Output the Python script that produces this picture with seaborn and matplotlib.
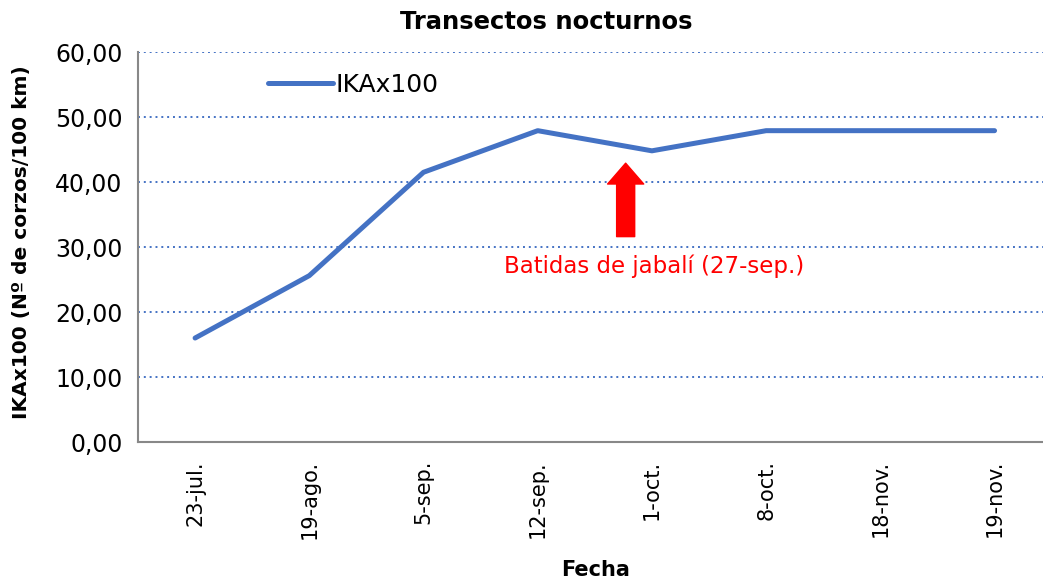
import seaborn as sns
import matplotlib.pyplot as plt
import pandas as pd
from matplotlib.ticker import FuncFormatter, FixedLocator

# datos
fechas = ["23-jul.", "19-ago.", "5-sep.", "12-sep.", "1-oct.", "8-oct.", "18-nov.", "19-nov."]
ika = [16.0, 25.6, 41.5, 47.9, 44.8, 47.9, 47.9, 47.9]
y_ticks = [0, 10, 20, 30, 40, 50, 60]
nota = "Batidas de jabalí (27-sep.)"

sns.set_style("white")
plt.rcParams['font.family'] = ['DejaVu Sans']
plt.rcParams['text.color'] = 'black'
plt.rcParams['xtick.color'] = 'black'
plt.rcParams['ytick.color'] = 'black'

df = pd.DataFrame({"Fecha": fechas, "IKAx100": ika})

fig = plt.figure(figsize=(10.43, 5.8), dpi=100)
ax = fig.add_axes([0.1323, 0.2379, 0.876, 0.6724])

azul = "#4472C4"
sns.lineplot(data=df, x="Fecha", y="IKAx100", ax=ax, color=azul, linewidth=3.6,
             sort=False, label="IKAx100")

ax.set_xlim(-0.5, len(fechas) - 0.5)
ax.set_ylim(0, 60)
ax.yaxis.set_major_locator(FixedLocator(y_ticks))
ax.yaxis.set_major_formatter(FuncFormatter(lambda v, p: f"{v:.2f}".replace(".", ",")))
for v in y_ticks[1:]:
    ax.axhline(v, color=azul, linestyle=(0, (1, 2)), linewidth=1.4, zorder=0)

ax.set_xticks(range(len(fechas)))
ax.set_xticklabels(fechas, rotation=90, fontsize=15)
ax.set_xticks([i - 0.5 for i in range(len(fechas) + 1)], minor=True)
ax.tick_params(axis="x", which="major", length=0, pad=13)
ax.tick_params(axis="x", which="minor", length=7, color="#888888", width=1.5, direction="out")
ax.tick_params(axis="y", length=7, color="#888888", width=1.5, direction="out", labelsize=17, pad=4)

for s in ["top", "right"]:
    ax.spines[s].set_visible(False)
for s in ["left", "bottom"]:
    ax.spines[s].set_color("#888888")
    ax.spines[s].set_linewidth(1.5)

ax.set_xlabel("")
ax.set_ylabel("")
fig.text(0.5235, 0.962, "Transectos nocturnos", ha="center", va="center",
         fontsize=17.5, fontweight="bold")
fig.text(0.571, 0.017, "Fecha", ha="center", va="center", fontsize=15, fontweight="bold")
fig.text(0.021, 0.583, "IKAx100 (Nº de corzos/100 km)", ha="center", va="center",
         rotation=90, fontsize=14.5, fontweight="bold")

# flecha y nota
ax.annotate("", xy=(3.77, 42.9), xytext=(3.77, 31.6),
            arrowprops=dict(arrowstyle="simple,tail_width=1.3,head_width=2.6,head_length=1.5",
                            color="red", shrinkA=0, shrinkB=0, mutation_scale=10))
ax.text(4.02, 27.0, nota, color="red", ha="center", va="center", fontsize=16.5)

ax.legend(loc="upper left", bbox_to_anchor=(0.118, 1.005), frameon=False, fontsize=18,
          handlelength=2.6, handletextpad=0.1)

fig.savefig("out.png", dpi=100)
